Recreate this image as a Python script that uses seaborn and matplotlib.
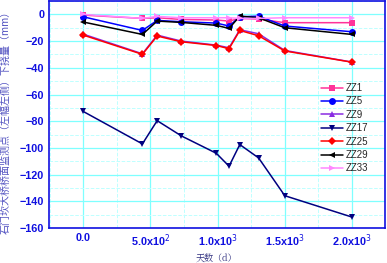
import matplotlib
matplotlib.use('Agg')
import matplotlib.pyplot as plt
import seaborn as sns
import pandas as pd
from matplotlib.ticker import MultipleLocator

# 观测天数
days = [0, 440, 550, 730, 990, 1085, 1165, 1305, 1500, 2000]

zz1 = [-0.5, -3.0, -2.5, -3.8, -4.2, -5.0, -3.0, -3.5, -6.2, -6.2]
zz5 = [-1.8, -12.0, -4.5, -5.5, -6.5, -8.7, -1.8, -1.3, -8.7, -13.0]
zz9 = [-14.8, -29.5, -15.5, -20.0, -23.0, -25.0, -11.5, -14.5, -27.0, -35.7]
zz17 = [-72.7, -97.0, -79.6, -91.0, -104.0, -113.7, -97.5, -107.5, -135.8, -151.8]
zz25 = [-15.5, -29.9, -16.2, -20.5, -23.3, -25.7, -12.0, -16.0, -27.4, -35.8]
zz29 = [-5.7, -15.0, -5.0, -6.0, -8.2, -10.5, -1.3, -2.5, -10.0, -15.0]
zz33 = [0.0, -3.0, -1.5, -2.5, -2.5, -2.5, -3.0, -3.0, -2.5, -2.5]

series = {
    'ZZ1': zz1, 'ZZ5': zz5, 'ZZ9': zz9, 'ZZ17': zz17,
    'ZZ25': zz25, 'ZZ29': zz29, 'ZZ33': zz33,
}
colors = {
    'ZZ1': '#ff3399', 'ZZ5': '#0000ff', 'ZZ9': '#8a2be2', 'ZZ17': '#000080',
    'ZZ25': '#ff0000', 'ZZ29': '#000000', 'ZZ33': '#ff88ff',
}
markers = {
    'ZZ1': 's', 'ZZ5': 'o', 'ZZ9': '^', 'ZZ17': 'v',
    'ZZ25': 'D', 'ZZ29': '<', 'ZZ33': '>',
}

sns.set_style('white')
plt.rcParams['font.family'] = ['Liberation Sans', 'Noto Sans CJK SC', 'DejaVu Sans']

fig = plt.figure(figsize=(3.87, 2.63), dpi=100)
ax = fig.add_axes([0.1266, 0.133, 0.868, 0.863])

blue = '#1010e0'
ax.xaxis.set_minor_locator(MultipleLocator(250))
ax.yaxis.set_minor_locator(MultipleLocator(10))
ax.grid(which='major', color='#7fffff', lw=0.9, ls='-')
ax.grid(which='minor', color='#bfffff', lw=0.7, ls='--')
ax.set_axisbelow(True)

for name, vals in series.items():
    df = pd.DataFrame({'day': days, 'val': vals})
    ms = 4 if markers[name] == 'D' else 5
    sns.lineplot(data=df, x='day', y='val', ax=ax, color=colors[name],
                 marker=markers[name], markersize=ms, markeredgewidth=0,
                 lw=1.1, label=name, sort=False)

ax.set_xlim(-255, 2245)
ax.set_ylim(-160, 10)
ax.set_xticks([0, 500, 1000, 1500, 2000])
ax.set_xticklabels(['0.0', '5.0x10$^{2}$', '1.0x10$^{3}$', '1.5x10$^{3}$', '2.0x10$^{3}$'])
ax.set_yticks(range(-160, 1, 20))

for sp in ax.spines.values():
    sp.set_color(blue)
    sp.set_linewidth(1.2)
ax.tick_params(which='both', direction='in', colors=blue, top=False, right=False)
ax.tick_params(which='major', length=3.5, width=1, labelsize=7.8)
ax.tick_params(which='minor', length=2, width=0.8)
for lab in ax.get_xticklabels() + ax.get_yticklabels():
    lab.set_fontweight('bold')
    lab.set_color(blue)

ax.set_xlabel('天数（d）', fontsize=6.5, color='#303080',
              family=['Noto Serif CJK SC', 'Noto Sans CJK SC'], labelpad=3)
ax.set_ylabel('石门坎大桥桥面监测点（左幅左侧）下挠量（mm）', fontsize=7.2, color='#5050c0',
              family=['Noto Sans CJK SC', 'DejaVu Sans'])
ax.yaxis.set_label_coords(-0.115, 0.475)

leg = ax.legend(loc='upper left', bbox_to_anchor=(0.795, 0.66), frameon=False,
                fontsize=7, handlelength=2.3, handletextpad=0.3,
                labelspacing=0.35, borderpad=0)

fig.savefig('out.png', dpi=100)
